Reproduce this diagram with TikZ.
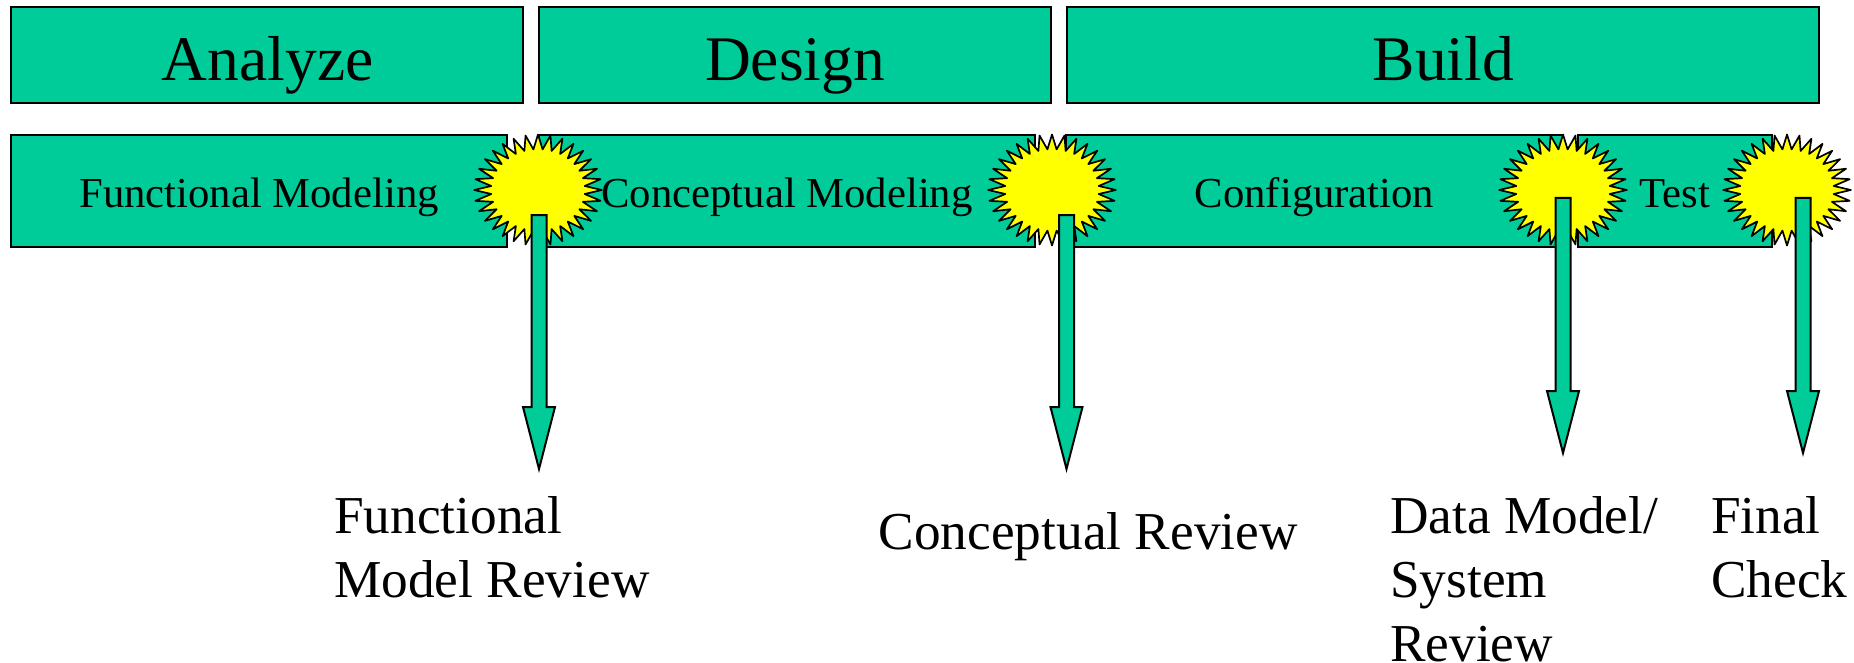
\documentclass[tikz,border=0pt]{standalone}
\usepackage{fontspec}
\setmainfont{Liberation Serif}
\usetikzlibrary{calc}
\usetikzlibrary{shapes.geometric}
\definecolor{boxgreen}{HTML}{00CC99}
\definecolor{burstyellow}{HTML}{FFFF00}
\newcommand{\flowarrow}[2]{\draw[flow] ($(#1)+(-7.5,0)$) -- ($(#2)+(-7.5,-62)$) -- ($(#2)+(-16,-62)$) -- (#2) -- ($(#2)+(16,-62)$) -- ($(#2)+(7.5,-62)$) -- ($(#1)+(7.5,0)$) -- cycle;}

\begin{document}
\begin{tikzpicture}[x=1pt,y=-1pt]
	\tikzstyle{phase}=[draw, fill=boxgreen, line width=2pt, inner sep=0pt, minimum height=96pt, text height=60pt, text depth=9.2pt, font=\fontsize{63.5}{70}\selectfont]
	\tikzstyle{task}=[draw, fill=boxgreen, line width=2pt, inner sep=0pt, minimum height=111.5pt, text height=40.5pt, text depth=7pt, font=\fontsize{42.7}{50}\selectfont]
	\tikzstyle{burst}=[draw, fill=burstyellow, line width=1.7pt, line join=round, inner sep=0pt, star, star points=32, star point ratio=1.36, minimum size=111pt, xscale=1.15, transform shape]
	\tikzstyle{flow}=[draw, fill=boxgreen, line width=2pt, line join=miter]
	\tikzstyle{review}=[inner sep=0pt, anchor=north west, align=left, font=\fontsize{53.3}{64}\selectfont]
	\useasboundingbox (0,0) rectangle (1854,663);

	\node[phase, minimum width=512pt] (analyze) at (267,55) {\hspace{1.5pt}Analyze};
	\node[phase, minimum width=512pt] (design) at (795,55) {Design};
	\node[phase, minimum width=752pt] (build) at (1442.5,55) {\hspace{1.5pt}Build};

	\node[task, minimum width=496pt] (functional) at (259,190.75) {Functional Modeling};
	\node[task, minimum width=496pt] (conceptual) at (787,190.75) {Conceptual Modeling};
	\node[task, minimum width=497pt] (config) at (1314.5,190.75) {Configuration};
	\node[task, minimum width=194pt] (test) at (1675,190.75) {Test};

	\foreach \i/\x in {1/538,2/1052,3/1563,4/1787}{
		\node[burst] (b\i) at (\x,190) {};
	}

	\foreach \i/\x/\a/\b in {1/539/215/469,2/1066.5/215/469,3/1563/198/453,4/1803/198/453}{
		\coordinate (t\i) at (\x,\a);
		\coordinate (e\i) at (\x,\b);
		\flowarrow{t\i}{e\i}
	}

	\node[review] (r1) at (334,496) {Functional\\Model Review};
	\node[review] (r2) at (878.5,512) {Conceptual Review};
	\node[review] (r3) at (1390,496) {Data Model/\\System\\Review};
	\node[review] (r4) at (1711,496) {Final\\Check};
\end{tikzpicture}
\end{document}
